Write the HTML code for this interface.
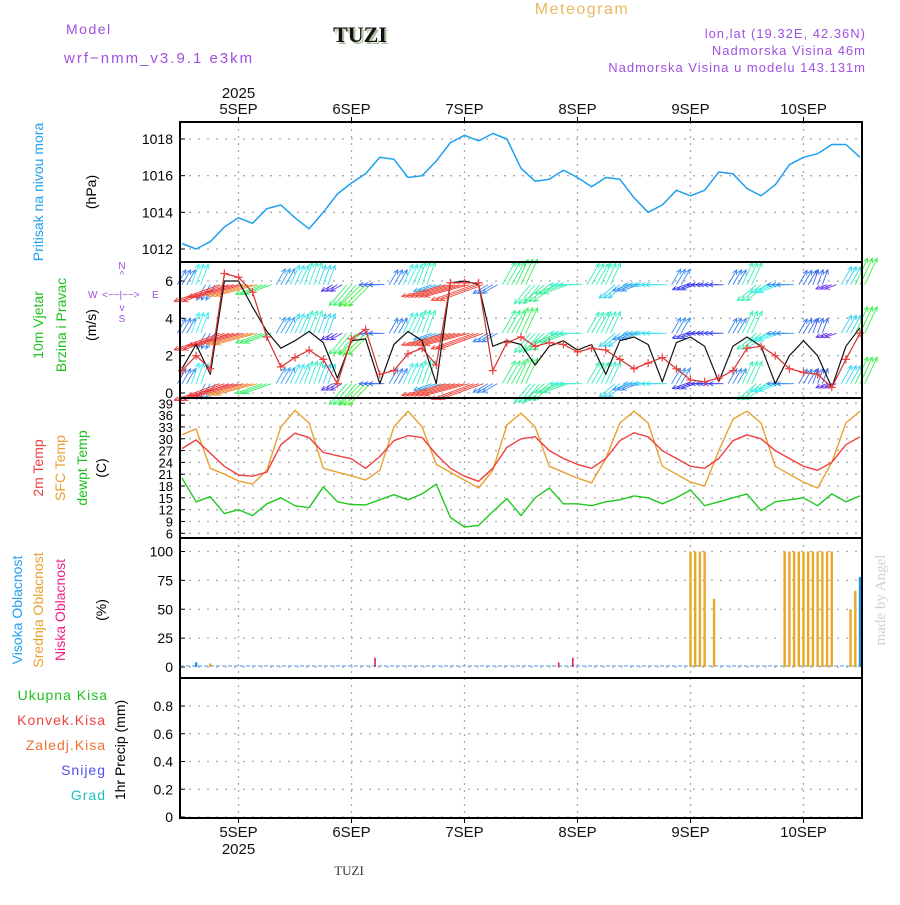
<!DOCTYPE html>
<html><head><meta charset="utf-8"><style>
body{margin:0;background:#fff;}
svg text{font-family:"Liberation Sans",sans-serif;}
</style></head><body>
<svg id="chart" width="900" height="900" viewBox="0 0 900 900" xmlns="http://www.w3.org/2000/svg">
<rect x="0" y="0" width="900" height="900" fill="#fff"/>
<text x="582" y="14" text-anchor="middle" font-size="16" fill="#e8b860" letter-spacing="1.5">Meteogram</text>
<text x="66" y="34" font-size="14" fill="#a050e0" letter-spacing="1.5">Model</text>
<text x="64" y="63" font-size="15" fill="#a050e0" letter-spacing="2">wrf−nmm_v3.9.1 e3km</text>
<text x="362" y="44" text-anchor="middle" font-size="22" font-weight="bold" fill="#aac0a0" style="font-family:'Liberation Serif',serif">TUZI</text>
<text x="360" y="42" text-anchor="middle" font-size="22" font-weight="bold" fill="#111" style="font-family:'Liberation Serif',serif">TUZI</text>
<text x="866" y="38" text-anchor="end" font-size="13" fill="#a050e0" letter-spacing="1">lon,lat (19.32E, 42.36N)</text>
<text x="866" y="55" text-anchor="end" font-size="13" fill="#a050e0" letter-spacing="1">Nadmorska Visina 46m</text>
<text x="866" y="72" text-anchor="end" font-size="13" fill="#a050e0" letter-spacing="1">Nadmorska Visina u modelu 143.131m</text>
<text x="349" y="875" text-anchor="middle" font-size="13" fill="#333" style="font-family:'Liberation Serif',serif">TUZI</text>
<text transform="translate(885,600) rotate(-90)" text-anchor="middle" font-size="15" fill="#c8d8c8" style="font-family:'Liberation Serif',serif">made by Angel</text>

<g font-size="14">
<text transform="translate(43,192) rotate(-90)" text-anchor="middle" fill="#20a0f0">Pritisak na nivou mora</text>
<text transform="translate(96,192) rotate(-90)" text-anchor="middle" fill="#000">(hPa)</text>
<text transform="translate(43,325) rotate(-90)" text-anchor="middle" fill="#20c020">10m Vjetar</text>
<text transform="translate(66,325) rotate(-90)" text-anchor="middle" fill="#20c020">Brzina i Pravac</text>
<text transform="translate(96,325) rotate(-90)" text-anchor="middle" fill="#000">(m/s)</text>
<g fill="#a050e0" font-size="10">
<text x="122" y="269" text-anchor="middle">N</text><text x="122" y="278" text-anchor="middle">^</text>
<text x="88" y="298">W</text><text x="102" y="298">&lt;−−|−−&gt;</text><text x="152" y="298">E</text>
<text x="122" y="311" text-anchor="middle">v</text><text x="122" y="322" text-anchor="middle">S</text>
</g>
<text transform="translate(43,468) rotate(-90)" text-anchor="middle" fill="#f04040">2m Temp</text>
<text transform="translate(65,468) rotate(-90)" text-anchor="middle" fill="#e8a030">SFC Temp</text>
<text transform="translate(87,468) rotate(-90)" text-anchor="middle" fill="#20c020">dewpt Temp</text>
<text transform="translate(106,468) rotate(-90)" text-anchor="middle" fill="#000">(C)</text>
<text transform="translate(22,610) rotate(-90)" text-anchor="middle" fill="#20a0f0">Visoka Oblacnost</text>
<text transform="translate(43,610) rotate(-90)" text-anchor="middle" fill="#e8a030">Srednja Oblacnost</text>
<text transform="translate(65,610) rotate(-90)" text-anchor="middle" fill="#f02080">Niska Oblacnost</text>
<text transform="translate(106,610) rotate(-90)" text-anchor="middle" fill="#000">(%)</text>
<text x="108" y="700" text-anchor="end" fill="#20c020" letter-spacing="1">Ukupna Kisa</text>
<text x="106" y="725" text-anchor="end" fill="#f04040" letter-spacing="1">Konvek.Kisa</text>
<text x="106" y="750" text-anchor="end" fill="#f07030" letter-spacing="1">Zaledj.Kisa</text>
<text x="106" y="775" text-anchor="end" fill="#5050f0" letter-spacing="1">Snijeg</text>
<text x="106" y="800" text-anchor="end" fill="#20c0c0" letter-spacing="1">Grad</text>
<text transform="translate(125,750) rotate(-90)" text-anchor="middle" fill="#000">1hr Precip (mm)</text>
</g>
<g id="plot"></g>
</svg>
<script>
const hours=[0,3,6,9,12,15,18,21,24,27,30,33,36,39,42,45,48,51,54,57,60,63,66,69,72,75,78,81,84,87,90,93,96,99,102,105,108,111,114,117,120,123,126,129,132,135,138,141,144];
const pressure=[1012.3,1012.0,1012.4,1013.2,1013.7,1013.4,1014.2,1014.4,1013.7,1013.1,1014.0,1015.0,1015.6,1016.1,1017.0,1016.9,1015.9,1016.0,1016.8,1017.8,1018.2,1017.9,1018.3,1018.0,1016.4,1015.7,1015.8,1016.3,1015.9,1015.4,1015.9,1015.8,1014.8,1014.0,1014.4,1015.2,1014.9,1015.2,1016.2,1016.1,1015.3,1014.9,1015.5,1016.6,1017.0,1017.2,1017.7,1017.7,1017.0];
const windSpeed=[1.2,2.0,1.3,6.4,6.2,5.4,3.0,1.4,1.9,2.3,1.8,0.5,2.9,3.4,1.0,1.2,2.1,2.4,1.5,5.9,5.9,5.9,1.2,2.7,3.0,2.5,2.7,2.6,2.2,2.4,2.3,1.8,1.3,1.6,1.9,1.3,0.7,0.6,0.8,1.2,2.4,2.5,2.0,1.3,1.1,1.0,0.3,1.8,3.2];
const windLine=[1.3,2.6,1.0,6.0,6.0,4.6,3.3,2.4,2.8,3.3,2.7,0.8,2.8,2.9,0.5,2.6,3.3,2.8,0.5,5.9,6.0,5.8,2.5,2.8,2.6,1.5,2.5,2.8,2.3,2.6,1.0,2.8,3.0,2.6,0.6,2.7,3.0,2.5,0.6,2.5,3.0,2.5,0.5,2.0,2.8,2.0,0.3,2.5,3.5];
const windDir=[60,70,240,200,195,195,200,60,65,70,70,210,230,225,180,60,65,70,200,195,195,200,210,60,65,230,220,200,180,60,65,220,200,180,180,60,200,180,180,60,65,220,200,180,60,70,200,60,65];
const tempSfc=[31,32.5,22.5,21,19.3,18.5,22,33,37.2,34,22.5,21.5,20.6,19.5,22,33,37,33,23.5,21.5,19.5,17.5,22,33.5,36.5,33,23,21.5,20,18.8,25,34,37,34,23,21,19,18,27,35,37,34,23,21,19,17.5,24,34,37];
const temp2m=[27.5,29.7,26.3,23,20.8,20.5,21.5,28.5,31.4,30.3,26.5,25.7,24.9,22.5,25.5,29.5,30.8,30.3,26,22.5,20.5,19.2,22.5,27.8,30,30.5,27,25,23.5,22.5,25,29.5,31.5,30.5,27,25,23,22.5,25,29.5,31,30,27,25,23,22,24,28.5,30.5];
const dewpt=[20,14,15.3,11,12,10.5,13.5,15,13,12.5,17.8,14,13.3,13.2,14.5,15.8,14.5,16,18.5,10,7.6,8,11.5,14.8,10.5,15,17.5,13.5,13.5,13,14,14.5,15.5,15,13.5,15,17,13,14,15,16,11.8,14,14.5,15,13,16,14,15.5];
const midCloudHours=[6,108,109,110,111,113,128,129,130,131,132,133,134,135,136,137,138,142,143];
const midCloudValues=[3,100,100,100,100,59,100,100,100,100,100,100,100,100,100,100,100,50,66];
const highCloudHours=[3,144];
const highCloudValues=[4,78];
const lowCloudHours=[41,80,83];
const lowCloudValues=[8,4,8];
const dayLabels=['5SEP','6SEP','7SEP','8SEP','9SEP','10SEP'];
const dayHours=[12,36,60,84,108,132];
const pTicks=[1012,1014,1016,1018];
const wTicks=[0,2,4,6];
const tTicks=[6,9,12,15,18,21,24,27,30,33,36,39];
const cTicks=[0,25,50,75,100];
const prTicks=[0,0.2,0.4,0.6,0.8];

const NS='http://www.w3.org/2000/svg';
const plot=document.getElementById('plot');
const L=180,R=862;
const X=h=>238.5+(h-12)*113/24;
const lin=(v0,y0,v1,y1)=>v=>y0+(v-v0)*(y1-y0)/(v1-v0);
const yP=lin(1012,249,1018,139), yW=lin(0,393,6,281), yT=lin(6,533.3,39,403.3), yC=lin(0,667,100,551.5), yPr=lin(0,817,0.8,706);
function mk(tag,attrs,parent){const e=document.createElementNS(NS,tag);for(const k in attrs)e.setAttribute(k,attrs[k]);(parent||plot).appendChild(e);return e;}
const panels=[[122,262,yP,pTicks,'pressure'],[262,398,yW,wTicks,'wind'],[398,538,yT,tTicks,'temp'],[538,678,yC,cTicks,'cloud'],[678,818,yPr,prTicks,'precip']];
panels.forEach(p=>{
  const [t,b,sc,ticks,nm]=p;
  const g=mk('g',{});
  
  
  dayHours.forEach(h=>mk('line',{x1:X(h),x2:X(h),y1:t,y2:b,stroke:'#aaa','stroke-dasharray':'2,5','stroke-width':1.3},g));
  ticks.forEach(v=>{
    const y=sc(v);
    mk('line',{x1:L,x2:R,y1:y,y2:y,stroke:'#aaa','stroke-dasharray':'2,7','stroke-width':1.3},g);
    mk('line',{x1:L,x2:L+5,y1:y,y2:y,stroke:'#000'},g);
    const tx=mk('text',{x:173,y:y+5,'text-anchor':'end','font-size':nm==='temp'?13:14,fill:'#000'},g);
    tx.textContent=(nm==='precip'&&v!==0)?v.toFixed(1):String(v);
    
    
  });
});
dayHours.forEach((h,i)=>{
  const x=X(h);
  const a=mk('text',{x:x,y:114,'text-anchor':'middle','font-size':15,fill:'#111'});a.textContent=dayLabels[i];
  
  
  const b=mk('text',{x:x,y:837,'text-anchor':'middle','font-size':15,fill:'#111'});b.textContent=dayLabels[i];
  
  
  mk('line',{x1:x,x2:x,y1:117,y2:122,stroke:'#000'});
  mk('line',{x1:x,x2:x,y1:818,y2:823,stroke:'#000'});
});
const y1=mk('text',{x:X(12),y:98,'text-anchor':'middle','font-size':15,fill:'#111'});y1.textContent='2025';


const y2=mk('text',{x:X(12),y:854,'text-anchor':'middle','font-size':15,fill:'#111'});y2.textContent='2025';



function line(vals,sc,color,name,w){
  const d=vals.map((v,i)=>(i?'L':'M')+X(hours[i]).toFixed(1)+','+sc(v).toFixed(1)).join('');
  const p=mk('path',{d:d,fill:'none',stroke:color,'stroke-width':w||1.4,'stroke-linejoin':'round'});
  
  
  return p;
}
mk('line',{x1:L,x2:R,y1:666,y2:666,stroke:'#8ab8e8','stroke-width':1.5,'stroke-dasharray':'4,2'});
function bars(hs,vs,color,name,w){
  hs.forEach((h,i)=>{
    const r=mk('rect',{x:X(h)-w/2,y:yC(vs[i]),width:w,height:yC(0)-yC(vs[i]),fill:color});
    
    
  });
}
bars(midCloudHours,midCloudValues,'#e8a828','mid-cloud-bar',2.4);
bars(highCloudHours,highCloudValues,'#2090e0','high-cloud-bar',2.4);
bars(lowCloudHours,lowCloudValues,'#d02070','low-cloud-bar',1.6);
const rows=[0.5,3.2,5.8];
windSpeed.forEach((s,i)=>{
  const hue=Math.max(0,270-s*45);
  const col='hsl('+hue+',85%,58%)';
  const len=10+s*6;
  const a=windDir[i]*Math.PI/180;
  rows.forEach(rv=>{
    [-4.7,0,4.7].forEach(off=>{
      const x0=X(hours[i])+off,y0=yW(rv);
      const x1=x0+Math.cos(a)*len,y1=y0-Math.sin(a)*len;
      const g=mk('g',{stroke:col,'stroke-width':0.9,fill:'none'});
      
      
      mk('line',{x1:x0,y1:y0,x2:x1,y2:y1},g);
      const b1=a+Math.PI-0.45,b2=a+Math.PI+0.45;
      mk('path',{d:'M'+(x1+Math.cos(b1)*5)+','+(y1-Math.sin(b1)*5)+'L'+x1+','+y1+'L'+(x1+Math.cos(b2)*5)+','+(y1-Math.sin(b2)*5)},g);
    });
  });
});
line(windLine,yW,'#111','wind-mean-line',1.2);
line(windSpeed,yW,'#d03030','wind-speed-line',1.2);
windSpeed.forEach((v,i)=>{
  const x=X(hours[i]),y=yW(v);
  const p=mk('path',{d:'M'+(x-4)+','+y+'H'+(x+4)+'M'+x+','+(y-4)+'V'+(y+4),stroke:'#f04040','stroke-width':1.2});
  
  
});
line(pressure,yP,'#1ea0f0','pressure-line',1.5);
line(tempSfc,yT,'#e8a030','sfc-temp-line',1.4);
line(temp2m,yT,'#f04040','t2m-line',1.4);
line(dewpt,yT,'#20c820','dewpoint-line',1.4);
[[122,262],[262,398],[398,538],[538,678],[678,818]].forEach(f=>{
  const r=mk('rect',{x:L,y:f[0],width:R-L,height:f[1]-f[0],fill:'none',stroke:'#000','stroke-width':2});
  
  
});
</script>
</body></html>
